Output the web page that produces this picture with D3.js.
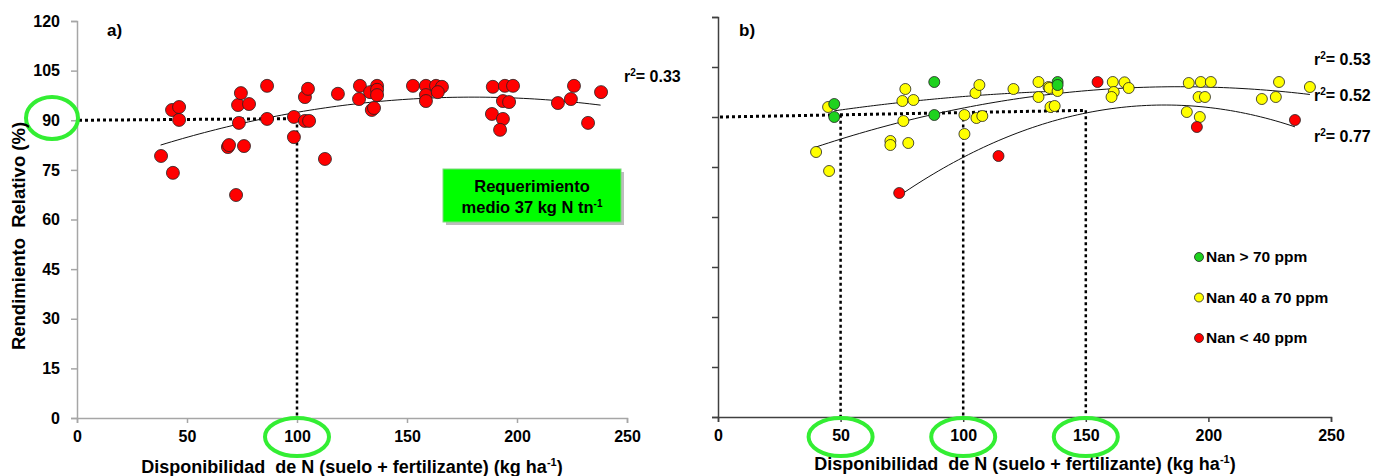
<!DOCTYPE html>
<html>
<head>
<meta charset="utf-8">
<script src="https://cdn.jsdelivr.net/npm/d3@7"></script>
<style>
  body { margin: 0; background: #fff; }
  text { font-family: Arial, "Liberation Sans", sans-serif; font-weight: bold; }
</style>
</head>
<body>
<div id="chart"></div>
<script>
// ---- data ----
const xTicks = [0, 50, 100, 150, 200, 250];
const yTicks = [0, 15, 30, 45, 60, 75, 90, 105, 120];

// panel a) all sites
const aX = [38.2, 43.6, 43.2, 46.4, 46.4, 68.6, 69.1, 75.9, 72.3, 73.6, 73.2, 74.5, 78.2, 86.4, 86.4,
  98.6, 98.6, 103.6, 105.5, 103.6, 105, 112.7, 118.6, 128.6, 128.2, 136.4, 133.2, 136.4, 136.4, 134, 135,
  152.7, 158.6, 158.6, 158.6, 163.2, 165.9, 164, 189, 194.5, 198.2, 193.6, 196.4, 188.6, 193.6, 192.3,
  218.6, 224.5, 225.9, 232.3, 238.2];
const aY = [79.2, 74.1, 93.1, 94.0, 90.1, 81.9, 82.5, 82.2, 67.4, 89.2, 94.6, 98.2, 94.9, 100.4, 90.4,
  91.0, 84.9, 89.8, 89.8, 97.0, 99.5, 78.3, 98.0, 100.4, 96.4, 100.4, 98.5, 99.2, 97.6, 93.1, 93.7,
  100.4, 100.4, 97.6, 95.8, 100.4, 100.1, 98.5, 100.1, 100.4, 100.4, 95.8, 95.5, 91.9, 90.4, 87.1,
  95.2, 96.4, 100.4, 89.2, 98.5];

// panel b) by soil Nan class
const greenX = [47.4, 47.4, 88.2, 88.2, 138.5, 138.5];
const greenY = [93.9, 90.0, 100.5, 90.6, 100.5, 99.6];
const yellowX = [44.9, 40.0, 45.3, 76.4, 75.2, 79.7, 75.6, 70.3, 70.3, 77.6, 100.5, 100.5, 105.4, 107.8,
  105, 106.6, 120.5, 130.7, 130.7, 134.8, 135.2, 138.5, 135.6, 137.3, 161, 165.8, 161.4, 160.5, 167.5,
  192, 196.9, 201, 196, 198.6, 191.2, 196.5, 228.8, 227.5, 221.8, 241.4];
const yellowY = [93.0, 79.5, 73.8, 98.4, 94.8, 95.1, 88.8, 82.8, 81.6, 82.2, 90.6, 84.9, 89.7, 90.3,
  97.2, 99.6, 98.4, 100.5, 96.0, 99.0, 98.7, 97.8, 93.0, 93.3, 100.5, 100.4, 97.5, 96.0, 98.7,
  100.2, 100.5, 100.5, 96.0, 96.0, 91.5, 90.0, 100.5, 96.0, 95.4, 99.0];
const redX = [73.9, 114.4, 154.8, 195.3, 235.3];
const redY = [67.2, 78.3, 100.5, 87.0, 89.1];

// quadratic fits: [a, b, c, xmin, xmax]
const fitA = [73.7, 0.2588, -0.000719, 38, 238];
const fitGreen = [85.9, 0.14613, -0.0004376, 47.4, 138.5];
const fitYellow = [69.93, 0.3098, -0.000823, 40, 241.4];
const fitRed = [16.48, 0.8465, -0.002323, 73.9, 235.3];

const r2A = ["0.33"];
const r2B = ["0.53", "0.52", "0.77"];
const legendLabels = ["Nan > 70 ppm", "Nan 40 a 70 ppm", "Nan < 40 ppm"];
const legendColors = ["#1ed21e", "#ffff00", "#ff0000"];

// guide lines: relative yield 90% and the N availability read for it
const guideA = [100];
const guideAY = [90, 90.5];
const guideB = [50, 100, 150];
const guideBY = [90, 92];

const W = 1385, H = 476;
const svg = d3.select('#chart').append('svg')
  .attr('width', W).attr('height', H)
  .style('background', '#fff');

function panel(xr, yr, axisColor, showYLabels) {
  const x = d3.scaleLinear().domain([0, 250]).range(xr);
  const y = d3.scaleLinear().domain([0, 120]).range(yr);
  const gx = svg.append('g').attr('transform', `translate(0,${yr[0]})`)
    .call(d3.axisBottom(x).tickValues(xTicks).tickSize(5).tickPadding(8));
  const gy = svg.append('g').attr('transform', `translate(${xr[0]},0)`)
    .call(d3.axisLeft(y).tickValues(yTicks).tickSize(6).tickPadding(11)
      .tickFormat(showYLabels ? d3.format('d') : () => ''));
  [gx, gy].forEach(g => {
    g.select('.domain').attr('stroke', axisColor).attr('stroke-width', 1.5);
    g.selectAll('.tick line').attr('stroke', axisColor).attr('stroke-width', 1.5);
    g.selectAll('.tick text').attr('fill', '#000')
      .style('font-size', '16px').style('font-family', 'Arial, "Liberation Sans", sans-serif')
      .style('font-weight', 'bold');
  });
  return { x, y };
}

function curve(s, f) {
  const pts = d3.range(f[3], f[4] + 0.01, (f[4] - f[3]) / 80)
    .map(v => [v, f[0] + f[1] * v + f[2] * v * v]);
  svg.append('path')
    .attr('d', d3.line().x(d => s.x(d[0])).y(d => s.y(d[1]))(pts))
    .attr('fill', 'none').attr('stroke', '#111').attr('stroke-width', 1);
}

function dots(s, xs, ys, color, r) {
  svg.append('g').selectAll('circle')
    .data(xs.map((v, i) => [v, ys[i]]))
    .join('circle')
    .attr('cx', d => s.x(d[0])).attr('cy', d => s.y(d[1])).attr('r', r)
    .attr('fill', color).attr('stroke', '#222').attr('stroke-width', 0.8);
}

function guides(s, xs, ys) {
  const xmax = d3.max(xs);
  const yAt = v => ys[0] + (ys[1] - ys[0]) * v / xmax;
  svg.append('line')
    .attr('x1', s.x(0) + 2).attr('y1', s.y(ys[0]))
    .attr('x2', s.x(xmax)).attr('y2', s.y(ys[1]))
    .attr('stroke', '#000').attr('stroke-width', 3).attr('stroke-dasharray', '3,3');
  xs.forEach(v => {
    svg.append('line')
      .attr('x1', s.x(v)).attr('y1', s.y(yAt(v)))
      .attr('x2', s.x(v)).attr('y2', s.y(0))
      .attr('stroke', '#000').attr('stroke-width', 2.5).attr('stroke-dasharray', '3,3');
  });
}

function ring(cx, cy, rx, ry) {
  svg.append('ellipse')
    .attr('cx', cx).attr('cy', cy).attr('rx', rx).attr('ry', ry)
    .attr('fill', 'none').attr('stroke', '#33ee33').attr('stroke-width', 4);
}

function r2Label(px, py, val) {
  const t = svg.append('text').attr('x', px).attr('y', py).style('font-size', '16px');
  t.append('tspan').text('r');
  t.append('tspan').text('2').attr('dy', -6).style('font-size', '10px');
  t.append('tspan').text('= ' + val).attr('dy', 6);
}

// ---------- panel a ----------
const sa = panel([77, 627], [418, 21], '#a6a6a6', true);
guides(sa, guideA, guideAY);
curve(sa, fitA);
dots(sa, aX, aY, '#ff0000', 6.5);
r2Label(624, 82, r2A[0]);
svg.append('text').attr('x', 107).attr('y', 36).style('font-size', '17px').text('a)');

// green box
svg.append('rect').attr('x', 446).attr('y', 172).attr('width', 178).attr('height', 53).attr('fill', '#bdbdbd');
svg.append('rect').attr('x', 443).attr('y', 169).attr('width', 178).attr('height', 53)
  .attr('fill', '#00ff00').attr('stroke', '#7fd67f').attr('stroke-width', 1);
svg.append('text').attr('x', 532).attr('y', 192).attr('text-anchor', 'middle')
  .style('font-size', '16.5px').text('Requerimiento');
const bt = svg.append('text').attr('x', 532).attr('y', 213).attr('text-anchor', 'middle')
  .style('font-size', '16.5px');
bt.append('tspan').text('medio 37 kg N tn');
bt.append('tspan').text('-1').attr('dy', -6).style('font-size', '10px');

ring(52, 118, 26, 21);
ring(sa.x(guideA[0]), 437, 32, 19);

// ---------- panel b ----------
const sb = panel([718, 1331], [417, 17], '#404040', false);
guides(sb, guideB, guideBY);
curve(sb, fitGreen);
curve(sb, fitYellow);
curve(sb, fitRed);
dots(sb, yellowX, yellowY, '#ffff00', 5.5);
dots(sb, greenX, greenY, '#1ed21e', 5.5);
dots(sb, redX, redY, '#ff0000', 5.5);
svg.append('text').attr('x', 739).attr('y', 36).style('font-size', '17px').text('b)');
r2Label(1314, 65, r2B[0]);
r2Label(1314, 101, r2B[1]);
r2Label(1314, 142, r2B[2]);
guideB.forEach(v => ring(sb.x(v), 437, 32, 19));

const lg = svg.append('g');
legendLabels.forEach((l, i) => {
  const yy = 257 + i * 40.5;
  lg.append('circle').attr('cx', 1199).attr('cy', yy).attr('r', 4.5)
    .attr('fill', legendColors[i]).attr('stroke', '#222').attr('stroke-width', 0.8);
  lg.append('text').attr('x', 1206).attr('y', yy + 5).style('font-size', '15.5px').text(l);
});

// ---------- axis titles ----------
svg.append('text').attr('transform', 'translate(25,236) rotate(-90)')
  .attr('text-anchor', 'middle').style('font-size', '18.5px').attr('xml:space', 'preserve')
  .text('Rendimiento  Relativo (%)');

function xTitle(cx, cy) {
  const t = svg.append('text').attr('x', cx).attr('y', cy).attr('text-anchor', 'middle')
    .style('font-size', '18px').attr('xml:space', 'preserve');
  t.append('tspan').text('Disponibilidad  de N (suelo + fertilizante) (kg ha');
  t.append('tspan').text('-1').attr('dy', -7).style('font-size', '11px');
  t.append('tspan').text(')').attr('dy', 7);
}
xTitle(352, 473);
xTitle(1025, 470);
</script>
</body>
</html>
